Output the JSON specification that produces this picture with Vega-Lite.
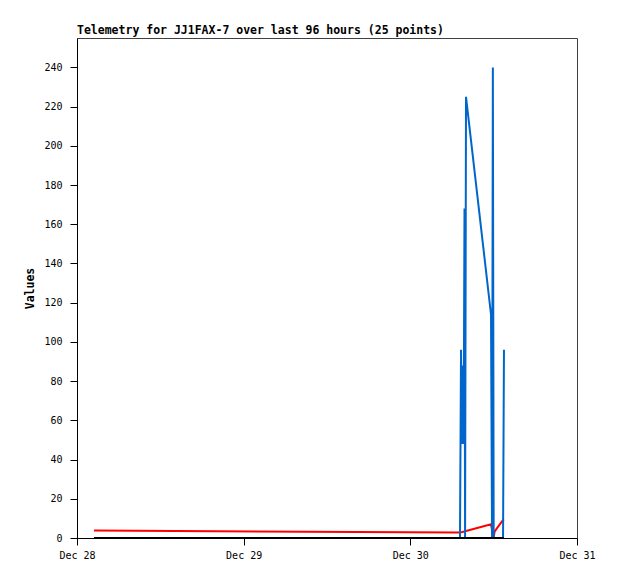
{
  "$schema": "https://vega.github.io/schema/vega-lite/v6.json",
  "width": 500,
  "height": 500,
  "autosize": {"type": "none"},
  "padding": {"left": 77, "top": 38, "right": 41, "bottom": 41},
  "background": "white",
  "title": {
    "text": "Telemetry for JJ1FAX-7 over last 96 hours (25 points)",
    "anchor": "start",
    "frame": "group",
    "font": "DejaVu Sans Mono",
    "fontSize": 11.5,
    "fontWeight": "bold",
    "color": "black",
    "offset": 2
  },
  "config": {
    "view": {"stroke": "#404040", "strokeWidth": 1},
    "axis": {
      "domainColor": "black",
      "tickColor": "black",
      "labelColor": "black",
      "labelFont": "DejaVu Sans Mono",
      "labelFontSize": 10,
      "titleFont": "DejaVu Sans Mono",
      "titleFontSize": 11.5,
      "titleFontWeight": "bold",
      "titleColor": "black",
      "grid": false,
      "tickSize": 7,
      "labelFlush": false,
      "labelOverlap": false
    }
  },
  "data": {
    "values": [
      {"t": "2024-12-28T02:27:00", "red": 3.8, "blue": 0, "black": 0},
      {"t": "2024-12-30T07:09:00", "red": 2.8, "blue": 0, "black": 0},
      {"t": "2024-12-30T07:18:00", "red": 2.9, "blue": 96, "black": 0},
      {"t": "2024-12-30T07:25:00", "red": 3.0, "blue": 48, "black": 0},
      {"t": "2024-12-30T07:31:00", "red": 3.1, "blue": 88, "black": 0},
      {"t": "2024-12-30T07:37:00", "red": 3.2, "blue": 48, "black": 0},
      {"t": "2024-12-30T07:43:00", "red": 3.3, "blue": 88, "black": 0},
      {"t": "2024-12-30T07:48:00", "red": 3.4, "blue": 168, "black": 0},
      {"t": "2024-12-30T07:53:00", "red": 3.5, "blue": 0, "black": 0},
      {"t": "2024-12-30T08:01:00", "red": 3.6, "blue": 225, "black": 0},
      {"t": "2024-12-30T11:37:00", "red": 7.0, "blue": 114, "black": 0},
      {"t": "2024-12-30T11:46:00", "red": 4.0, "blue": 0, "black": 0},
      {"t": "2024-12-30T11:53:00", "red": 1.0, "blue": 240, "black": 0},
      {"t": "2024-12-30T12:00:00", "red": 0.5, "blue": 0, "black": 0},
      {"t": "2024-12-30T12:08:00", "red": 3.2, "blue": 0, "black": 0},
      {"t": "2024-12-30T12:29:00", "red": 5.0, "blue": 0, "black": 0},
      {"t": "2024-12-30T13:21:00", "red": 9.2, "blue": 0, "black": 0},
      {"t": "2024-12-30T13:29:00", "red": 9.5, "blue": 96, "black": 0}
    ]
  },
  "encoding": {
    "x": {
      "field": "t",
      "type": "temporal",
      "scale": {
        "domain": [
          {"year": 2024, "month": "dec", "date": 28},
          {"year": 2024, "month": "dec", "date": 31}
        ]
      },
      "axis": {
        "title": null,
        "format": "%b %d",
        "values": [
          {"year": 2024, "month": "dec", "date": 28},
          {"year": 2024, "month": "dec", "date": 29},
          {"year": 2024, "month": "dec", "date": 30},
          {"year": 2024, "month": "dec", "date": 31}
        ],
        "labelPadding": 5
      }
    }
  },
  "layer": [
    {
      "mark": {"type": "line", "color": "#ff0000", "strokeWidth": 2},
      "encoding": {
        "y": {
          "field": "red",
          "type": "quantitative",
          "scale": {"domain": [0, 255], "nice": false},
          "axis": {"title": "Values", "values": [0, 20, 40, 60, 80, 100, 120, 140, 160, 180, 200, 220, 240], "labelPadding": 8, "titlePadding": 8}
        }
      }
    },
    {
      "mark": {"type": "line", "color": "#0066cc", "strokeWidth": 2},
      "encoding": {
        "y": {
          "field": "blue",
          "type": "quantitative",
          "scale": {"domain": [0, 255], "nice": false},
          "axis": {"title": "Values", "values": [0, 20, 40, 60, 80, 100, 120, 140, 160, 180, 200, 220, 240], "labelPadding": 8, "titlePadding": 8}
        }
      }
    },
    {
      "mark": {"type": "line", "color": "#000000", "strokeWidth": 2},
      "encoding": {
        "y": {
          "field": "black",
          "type": "quantitative",
          "scale": {"domain": [0, 255], "nice": false},
          "axis": {"title": "Values", "values": [0, 20, 40, 60, 80, 100, 120, 140, 160, 180, 200, 220, 240], "labelPadding": 8, "titlePadding": 8}
        }
      }
    }
  ]
}
